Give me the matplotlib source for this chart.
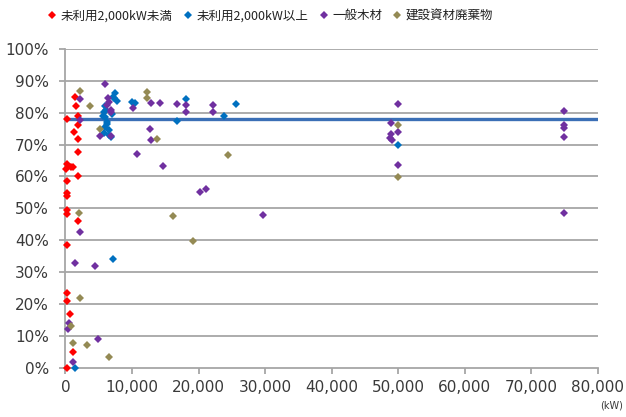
import matplotlib
matplotlib.use("Agg")
import matplotlib.pyplot as plt
from matplotlib.ticker import FuncFormatter
from matplotlib.lines import Line2D

# Generation efficiency vs. plant capacity, by fuel category
series_names = ["未利用2,000kW未満", "未利用2,000kW以上", "一般木材", "建設資材廃棄物"]
series_colors = ["#ff0000", "#0070c0", "#7030a0", "#948a54"]

# 未利用 (< 2,000 kW)
unused_small_kw = [180, 1430, 1580, 1900, 1900, 1280, 1900, 1900, 180, 780, 1080, 100,
                   1900, 180, 180, 180, 180, 180, 1900, 180, 180, 180, 680, 1080, 180]
unused_small_eff = [78.0, 85.0, 82.1, 79.0, 76.0, 73.9, 71.8, 67.6, 63.8, 62.9, 63.0, 62.2,
                    60.2, 58.7, 54.9, 54.0, 49.5, 48.3, 46.1, 38.5, 23.5, 21.0, 16.7, 5.0, 0.0]

# 未利用 (>= 2,000 kW)
unused_large_kw = [7440, 7190, 7700, 5900, 5800, 6000, 6200, 5900, 6600, 5800, 6900, 6300,
                   7000, 6100, 6500, 7300, 5700, 9950, 10450, 16700, 18100, 23800, 25600,
                   50000, 7190, 1430]
unused_large_eff = [86.1, 85.0, 83.8, 82.0, 80.3, 78.8, 77.2, 75.6, 74.6, 73.5, 72.5, 76.5,
                    79.5, 81.0, 73.0, 84.5, 79.0, 83.5, 83.0, 77.5, 84.2, 79.1, 82.6,
                    69.9, 34.0, 0.0]

# 一般木材
wood_kw = [5940, 2180, 2180, 6400, 6600, 6300, 6800, 6900, 5200, 6900, 10200, 12800,
           14200, 16700, 18100, 18100, 22200, 22200, 12700, 12800, 10700, 14600, 20200,
           21200, 29650, 2180, 1430, 4440, 570, 420, 4930, 1080,
           50000, 49000, 49000, 48800, 49100, 50000, 50000,
           75000, 75000, 75000, 75000, 75000]
wood_eff = [89.0, 84.2, 77.7, 84.5, 83.5, 82.5, 81.0, 80.3, 72.7, 72.7, 81.4, 83.1,
            82.9, 82.7, 82.4, 80.3, 82.4, 80.3, 74.8, 71.5, 66.9, 63.4, 55.0,
            56.0, 47.8, 42.6, 32.7, 31.8, 14.1, 12.0, 8.9, 1.8,
            82.6, 76.7, 73.3, 72.1, 71.5, 73.8, 63.6,
            80.6, 76.1, 75.1, 72.5, 48.4]

# 建設資材廃棄物
waste_kw = [2180, 3680, 5190, 12200, 12200, 13700, 24500, 16100, 19100, 2080, 2180,
            780, 1080, 3180, 6590, 50000, 50000]
waste_eff = [86.9, 82.1, 74.8, 86.6, 84.5, 71.8, 66.8, 47.7, 39.7, 48.4, 21.9,
             13.0, 7.8, 7.1, 3.4, 76.1, 59.9]

reference_eff = 78.0
x_ticks = list(range(0, 80001, 10000))
y_ticks = list(range(0, 101, 10))

series_x = [unused_small_kw, unused_large_kw, wood_kw, waste_kw]
series_y = [unused_small_eff, unused_large_eff, wood_eff, waste_eff]

fig = plt.figure(figsize=(6.26, 4.17), dpi=100)
ax = fig.add_axes([0.1046, 0.1187, 0.85, 0.7638])

grid_color = "#a6a6a6"
text_color = "#3a3a3a"

for yv in y_ticks[1:]:
    ax.axhline(yv, color=grid_color, lw=1.3, zorder=1)

ax.plot([0, 80000], [reference_eff, reference_eff], color="#3b6fb6", lw=2.4,
        zorder=2, solid_capstyle="butt")

handles = []
for xs, ys, c, name in zip(series_x, series_y, series_colors, series_names):
    ax.plot(xs, ys, linestyle="none", marker="D", markersize=4.4, color=c,
            markeredgewidth=0, zorder=3, clip_on=False)
    handles.append(Line2D([], [], linestyle="none", marker="D", markersize=3.8,
                          color=c, markeredgewidth=0, label=name))

ax.set_xlim(0, 80000)
ax.set_ylim(0, 100)
ax.set_xticks(x_ticks)
ax.set_yticks(y_ticks)
ax.xaxis.set_major_formatter(FuncFormatter(lambda v, p: f"{int(v):,}"))
ax.yaxis.set_major_formatter(FuncFormatter(lambda v, p: f"{int(v)}%"))

for side in ["top", "right"]:
    ax.spines[side].set_visible(False)
for side in ["left", "bottom"]:
    ax.spines[side].set_color(grid_color)
    ax.spines[side].set_linewidth(1.3)
    ax.spines[side].set_zorder(1)

ax.tick_params(axis="both", direction="out", length=4, width=1.3, color=grid_color,
               labelsize=11, labelcolor=text_color)
ax.tick_params(axis="y", pad=8)
ax.tick_params(axis="x", pad=5)

fig.text(0.995, 0.028, "(kW)", fontsize=7, color=text_color, ha="right", va="center")

fig.legend(handles=handles, loc="center", bbox_to_anchor=(0.432, 0.962), ncol=4,
           frameon=False, handlelength=0.8, handletextpad=0.3, columnspacing=0.8,
           prop={"family": ["Noto Sans CJK JP", "DejaVu Sans"], "size": 9},
           labelcolor="#222222")

fig.savefig("out.png", dpi=100)
